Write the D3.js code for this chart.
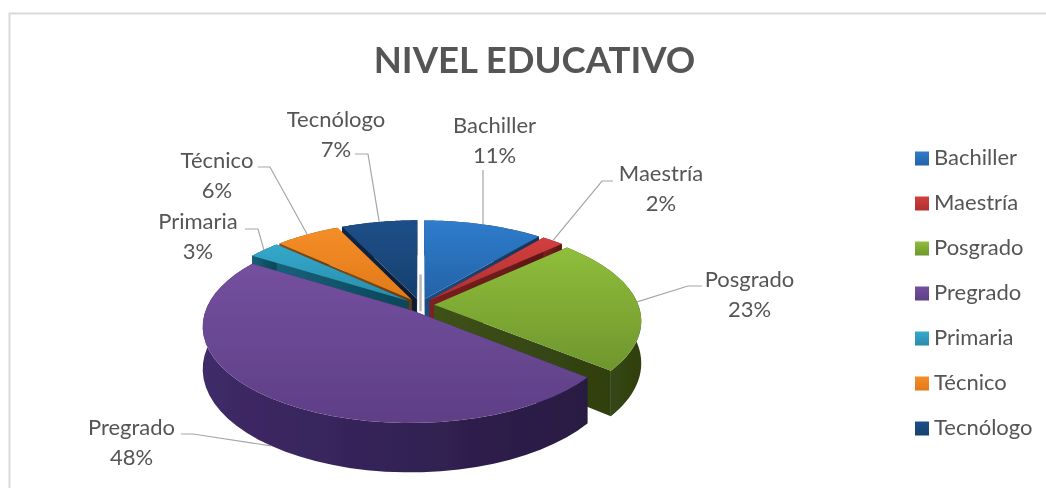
<!DOCTYPE html>
<html><head><meta charset="utf-8">
<script src="https://cdn.jsdelivr.net/npm/d3@7/dist/d3.min.js"></script>
<style>html,body{margin:0;padding:0;background:#fff}svg{display:block}text{font-family:Lato,"Open Sans",sans-serif;fill:#555}</style>
</head><body><div id="c"></div>
<script>
const categories = ["Bachiller","Maestría","Posgrado","Pregrado","Primaria","Técnico","Tecnólogo"];
const percents = [11,2,23,48,3,6,7];
const topLight = ["#2f7ccb","#d23f3f","#8fbe3b","#74509f","#34a9cb","#f58d28","#1d4f88"];
const topDark  = ["#2363a8","#b02f30","#6f962d","#5e3f86","#2a8cab","#e07a18","#17406f"];
const sideLight= ["#1f4c80","#7d2020","#3f5216","#3f2a68","#14607a","#8f4e12","#0d2748"];
const sideDark = ["#16355a","#5a1616","#2f3f10","#281a42","#0e4658","#6a3a0d","#071a30"];
// label layout: text centre, first baseline, leader start and knee
const labelX   = [494.5,661,749.5,131.5,198,217,336];
const labelY   = [133,181,287,435,229,168,127];
const leaderA  = [[483,170],[613,181],[702,286],[181,434],[245,229],[258,167],[355,154]];
const leaderB  = [null,[602,181],[688,286],[193,434],[258,229],[270,167],[368,154]];
const W=1046,H=489;
const cx=420, cy=305, R=204, squash=.455, persp=.16, explode=.07, depth=41;
const svg=d3.select("#c").append("svg").attr("width",W).attr("height",H);
const defs=svg.append("defs");
defs.append("filter").attr("id","soft").attr("x","-5%").attr("y","-5%").attr("width","110%").attr("height","110%")
  .append("feGaussianBlur").attr("stdDeviation",.7);
defs.append("filter").attr("id","softText").attr("x","-5%").attr("y","-10%").attr("width","110%").attr("height","120%")
  .append("feGaussianBlur").attr("stdDeviation",.35);
const grad=(id,a,b,horizontal)=>{const g=defs.append("linearGradient").attr("id",id).attr("x1",0).attr("y1",0).attr("x2",horizontal?1:0).attr("y2",horizontal?0:1);
  g.append("stop").attr("offset",0).attr("stop-color",a);g.append("stop").attr("offset",1).attr("stop-color",b);};
categories.forEach((c,i)=>{grad("t"+i,topLight[i],topDark[i]);grad("s"+i,sideLight[i],sideDark[i],true);});

// frame
svg.append("path").attr("d",`M9.5,${H-1}V13.5H${W}`).attr("fill","none").attr("stroke","#d9d9d9").attr("stroke-width",2);
svg.append("text").attr("x",534.5).attr("y",73).attr("text-anchor","middle").attr("font-size",36.5).attr("font-weight",700).attr("filter","url(#softText)").text("NIVEL EDUCATIVO");

const rScale=d3.scaleLinear().domain([0,1]).range([0,R]);
const pie=d3.pie().sort(null).value(d=>d);
const arcs=pie(percents).map((a,i)=>({...a,i,mid:(a.startAngle+a.endAngle)/2}));
const proj=(a,rr,m,z)=>{ // ground-plane polar point, exploded along bisector m, projected
  const X=rr*Math.sin(a)+explode*Math.sin(m), Y=-rr*Math.cos(a)-explode*Math.cos(m);
  const p=1/(1-persp*Y);
  return [cx+rScale(X)*p, cy+rScale(Y)*squash*p+(z?depth*p:0)];
};
const line=d3.line();
const rim=(d,z)=>d3.range(0,41).map(k=>proj(d.startAngle+(d.endAngle-d.startAngle)*k/40,1,d.mid,z));
const order=arcs.slice().sort((a,b)=>(-Math.cos(a.mid))-(-Math.cos(b.mid)));
const gp=svg.append("g").attr("filter","url(#soft)");
// pale inner wall seen through the gap at twelve o'clock
const gapSlice=arcs[6], gapA=proj(0,.28,gapSlice.mid,0), gapB=proj(0,0,gapSlice.mid,1);
gp.append("path").attr("d",line([[gapA[0]+3.5,gapA[1]],[gapA[0]+3.5,gapB[1]-28]])).attr("stroke","#b8b8b8").attr("stroke-width",2.5).attr("fill","none");
order.forEach(d=>{
  const g=gp.append("g");
  const A=proj(0,0,d.mid,0),B=proj(0,0,d.mid,1);
  const top=rim(d,0),bot=rim(d,1);
  g.append("path").attr("d",line([A,top[0],bot[0],B])+"Z").attr("fill","url(#s"+d.i+")");
  g.append("path").attr("d",line([A,top[40],bot[40],B])+"Z").attr("fill","url(#s"+d.i+")");
  g.append("path").attr("d",line(top.concat(bot.slice().reverse()))+"Z").attr("fill","url(#s"+d.i+")");
  g.append("path").attr("d",line([A].concat(top))+"Z").attr("fill","url(#t"+d.i+")");
});

// leaders and data labels
const lg=svg.append("g");
arcs.forEach(d=>{
  const end=proj(d.mid,1,d.mid,d.i===3?1:0);
  const pts=[leaderA[d.i]];
  if(leaderB[d.i])pts.push(leaderB[d.i]);
  pts.push(d.i===0?[leaderA[0][0],end[1]]:end);
  lg.append("path").attr("d",line(pts)).attr("fill","none").attr("stroke","#a6a6a6").attr("stroke-width",1.2);
  const t=lg.append("text").attr("text-anchor","middle").attr("font-size",22).attr("filter","url(#softText)");
  t.append("tspan").attr("x",labelX[d.i]).attr("y",labelY[d.i]).text(categories[d.i]);
  t.append("tspan").attr("x",labelX[d.i]).attr("y",labelY[d.i]+29.5).text(d.data+"%");
});

// legend
const ly=d3.scalePoint().domain(categories).range([158.5,428.5]);
categories.forEach((c,i)=>{
  svg.append("rect").attr("x",915).attr("y",ly(c)-7).attr("width",14).attr("height",14).attr("fill","url(#t"+i+")");
  svg.append("text").attr("x",934).attr("y",ly(c)+6.5).attr("font-size",22).attr("filter","url(#softText)").text(c);
});
</script></body></html>
